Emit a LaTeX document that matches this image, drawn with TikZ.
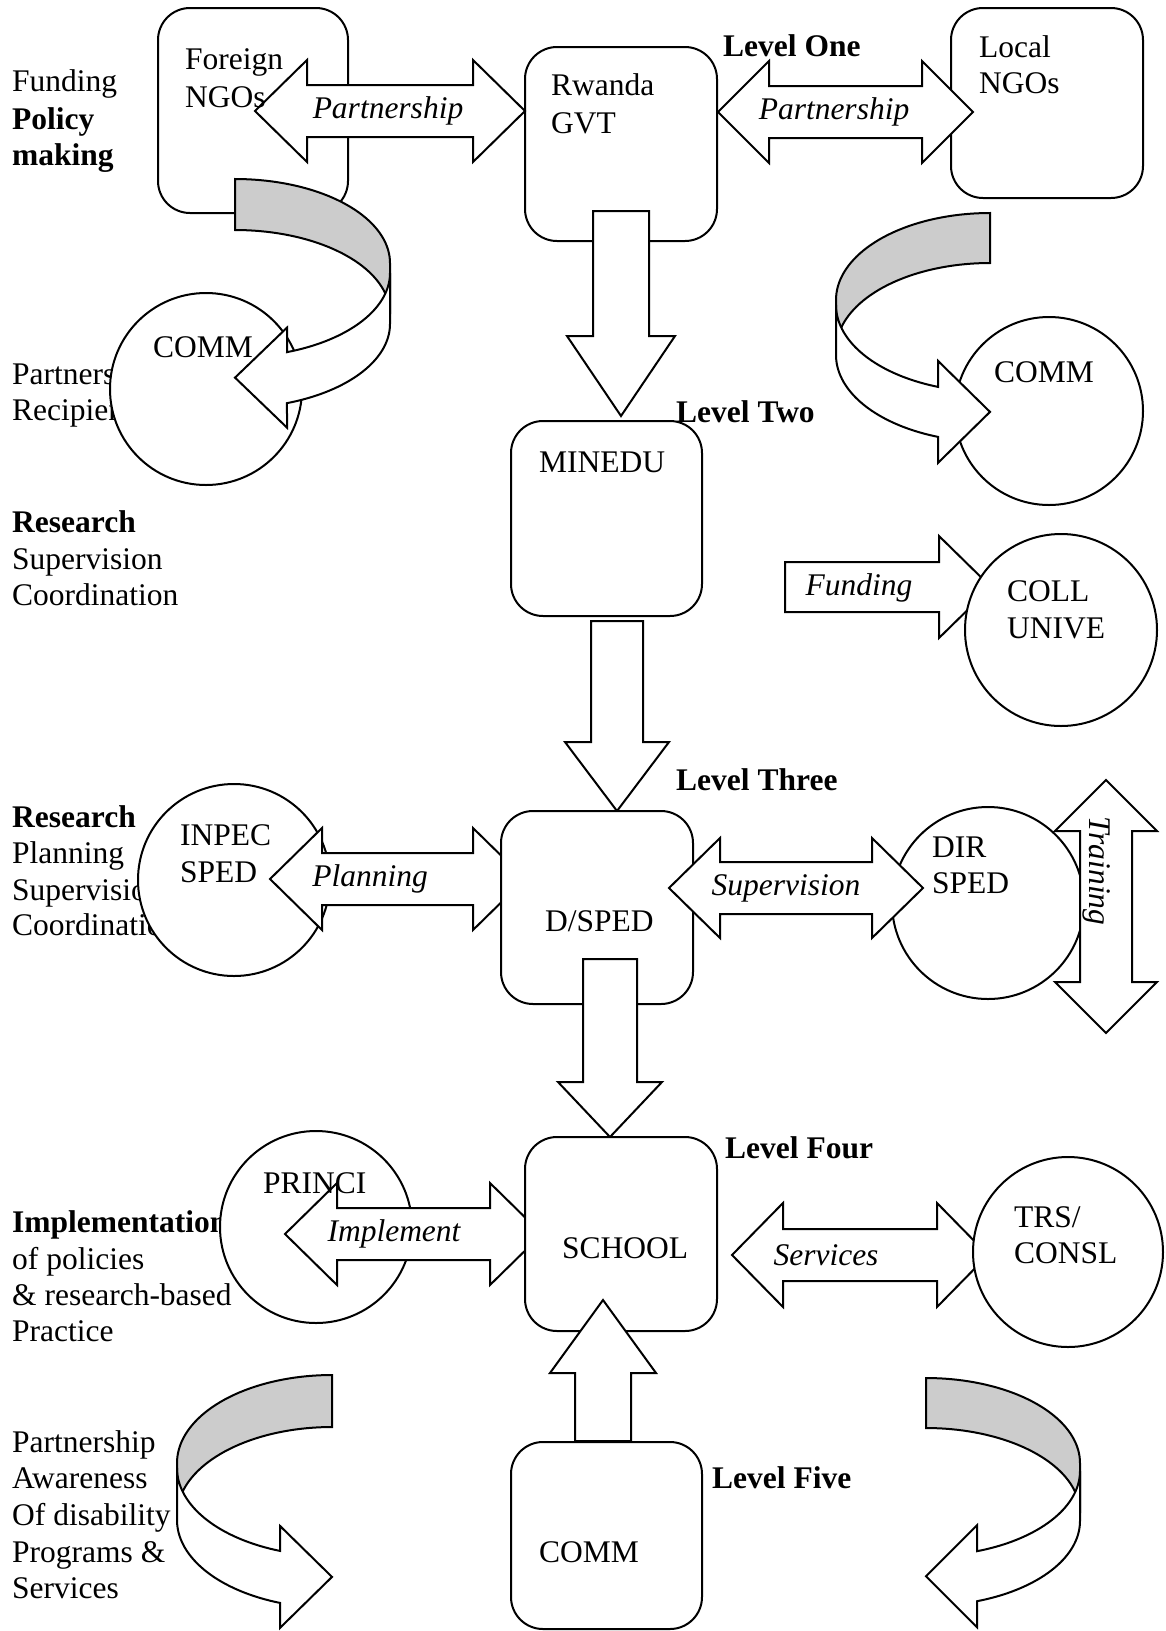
\documentclass[tikz,border=0pt]{standalone}
\usepackage{fontspec}
\setmainfont{Liberation Serif}
\newcommand\diagfont{\fontsize{31.5}{36.4}\selectfont}
\tikzset{
  ln/.style={line width=2pt, draw=black},
  boxshape/.style={ln, fill=white, rounded corners=32pt, rectangle, inner sep=0pt},
  circshape/.style={ln, fill=white, circle, inner sep=0pt},
  arrowshape/.style={ln, fill=white, line join=miter},
  backface/.style={ln, fill=black!20},
  frontface/.style={ln, fill=white},
  txt/.style={anchor=base west, inner sep=0pt, font=\diagfont},
  btxt/.style={anchor=base west, inner sep=0pt, font=\diagfont\bfseries},
  itxt/.style={anchor=center, inner sep=0pt, font=\diagfont\itshape},
}
% horizontal double arrow: xl, xr, yc, head length, shaft half, head half
\newcommand\hdarrow[6]{\filldraw[arrowshape] (#1,#3) -- ({#1+#4},{#3-#6}) -- ({#1+#4},{#3-#5}) -- ({#2-#4},{#3-#5}) -- ({#2-#4},{#3-#6}) -- (#2,#3) -- ({#2-#4},{#3+#6}) -- ({#2-#4},{#3+#5}) -- ({#1+#4},{#3+#5}) -- ({#1+#4},{#3+#6}) -- cycle;}
% vertical double arrow: xc, ytop, ybot, head length, shaft half, head half
\newcommand\vdarrow[6]{\filldraw[arrowshape] (#1,#2) -- ({#1+#6},{#2+#4}) -- ({#1+#5},{#2+#4}) -- ({#1+#5},{#3-#4}) -- ({#1+#6},{#3-#4}) -- (#1,#3) -- ({#1-#6},{#3-#4}) -- ({#1-#5},{#3-#4}) -- ({#1-#5},{#2+#4}) -- ({#1-#6},{#2+#4}) -- cycle;}
% vertical single arrow: xc, ystart, ybase, ytip, shaft half, head half
\newcommand\vsarrow[6]{\filldraw[arrowshape] ({#1-#5},#2) -- ({#1+#5},#2) -- ({#1+#5},#3) -- ({#1+#6},#3) -- (#1,#4) -- ({#1-#6},#3) -- ({#1-#5},#3) -- cycle;}
% horizontal single arrow: xstart, xbase, xtip, yc, shaft half, head half
\newcommand\hsarrow[6]{\filldraw[arrowshape] (#1,{#4-#5}) -- (#2,{#4-#5}) -- (#2,{#4-#6}) -- (#3,#4) -- (#2,{#4+#6}) -- (#2,{#4+#5}) -- (#1,{#4+#5}) -- cycle;}
% curved ribbon arrow: cx, s, c1, w, c3, rx, ry, head length, head half
\newcommand\curvarrow[9]{%
  \pgfmathsetmacro\cvT{acos(#8/#6)}%
  \pgfmathsetmacro\cvS{sin(\cvT)}%
  \pgfmathsetmacro\cvHC{#5+#4/2+#7*\cvS}%
  \filldraw[backface] plot[domain=90:0,samples=40] ({#1+(#2)*#6*cos(\x)},{#3-#7*sin(\x)}) -- plot[domain=0:90,samples=40] ({#1+(#2)*#6*cos(\x)},{#3+#4-#7*sin(\x)}) -- cycle;
  \filldraw[frontface] plot[domain=0:\cvT,samples=40] ({#1+(#2)*#6*cos(\x)},{#5+#7*sin(\x)}) -- ({#1+(#2)*#8},{\cvHC-#9}) -- (#1,\cvHC) -- ({#1+(#2)*#8},{\cvHC+#9}) -- plot[domain=\cvT:0,samples=40] ({#1+(#2)*#6*cos(\x)},{#5+#4+#7*sin(\x)}) -- cycle;
}
\begin{document}
\begin{tikzpicture}[x=1pt,y=-1pt]
\useasboundingbox (0,0) rectangle (1166,1631);
\fill[white] (0,0) rectangle (1166,1631);

% left-hand texts
\node[txt]  (l1a) at (12,91) {Funding};
\node[btxt] (l1b) at (12,129) {Policy};
\node[btxt] (l1c) at (12,165) {making};
\node[txt]  (l2a) at (12,384) {Partners};
\node[txt]  (l2b) at (12,420) {Recipients};
\node[btxt] (l3a) at (12,532) {Research};
\node[txt]  (l3b) at (12,569) {Supervision};
\node[txt]  (l3c) at (12,605) {Coordination};
\node[btxt] (l4a) at (12,827) {Research};
\node[txt]  (l4b) at (12,863) {Planning};
\node[txt]  (l4c) at (12,900) {Supervision};
\node[txt]  (l4d) at (12,935) {Coordination};
\node[btxt] (l5a) at (12,1232) {Implementation};
\node[txt]  (l5b) at (12,1269) {of policies};
\node[txt]  (l5c) at (12,1305) {\& research-based};
\node[txt]  (l5d) at (12,1341) {Practice};
\node[txt]  (l6a) at (12,1452) {Partnership};
\node[txt]  (l6b) at (12,1488) {Awareness};
\node[txt]  (l6c) at (12,1525) {Of disability};
\node[txt]  (l6d) at (12,1562) {Programs \&};
\node[txt]  (l6e) at (12,1598) {Services};

% circles under arrows
\node[circshape, minimum size=192pt] (comma) at (206,389) {};
\node[circshape, minimum size=188pt] (commb) at (1049,411) {};
\node[circshape, minimum size=192pt] (inpec) at (234,880) {};
\node[circshape, minimum size=192pt] (princi) at (316,1227) {};
\node[circshape, minimum size=192pt] (dir) at (988,903) {};

% boxes (upper)
\node[boxshape, minimum width=190pt, minimum height=205pt] (foreign) at (253,110.5) {};
\node[boxshape, minimum width=192pt, minimum height=194pt] (rwanda) at (621,144) {};
\node[boxshape, minimum width=192pt, minimum height=190pt] (local) at (1047,103) {};
\node[boxshape, minimum width=191pt, minimum height=195pt] (minedu) at (606.5,518.5) {};

% arrows
\hdarrow{255}{525}{111}{52}{26}{51}
\hdarrow{718}{973}{112}{51}{26}{51}
\vsarrow{621}{211}{336}{416}{28}{54}
\vsarrow{617}{621}{742}{811}{26}{52}
\hdarrow{270}{525}{879}{52}{26}{51}

\node[boxshape, minimum width=192pt, minimum height=193pt] (dsped) at (597,907.5) {};

\hdarrow{669}{923}{888}{51}{26}{50}
\vsarrow{610}{959}{1082}{1137}{27}{52}
\hdarrow{285}{542}{1234}{52}{26}{51}
\vdarrow{1106}{780}{1033}{51}{26}{51}
\hdarrow{732}{988}{1255}{51}{26}{52}
\hsarrow{785}{939}{991}{587}{25}{51}

\node[boxshape, minimum width=192pt, minimum height=194pt] (school) at (621,1234) {};
\vsarrow{603}{1441}{1373}{1300}{28}{53}
\node[boxshape, minimum width=191pt, minimum height=187pt] (commbox) at (606.5,1535.5) {};

% circles over arrows
\node[circshape, minimum size=190pt] (trs) at (1068,1252) {};
\node[circshape, minimum size=192pt] (coll) at (1061,630) {};

% curved ribbon arrows
\curvarrow{235}{1}{263}{51}{273}{155}{84}{52}{50}
\curvarrow{990}{-1}{300}{50}{305}{154}{87}{52}{51}
\curvarrow{332}{-1}{1463}{52}{1468}{155}{88}{52}{51}
\curvarrow{926}{1}{1463}{50}{1471}{154}{85}{51}{51}

% texts in shapes
\node[txt] (tforeign) at (185,69) {Foreign};
\node[txt] (tforeign2) at (185,107) {NGOs};
\node[txt] (trwanda) at (551,95) {Rwanda};
\node[txt] (trwanda2) at (551,133) {GVT};
\node[txt] (tlocal) at (979,57) {Local};
\node[txt] (tlocal2) at (979,93) {NGOs};
\node[txt] (tcomma) at (153,357) {COMM};
\node[txt] (tcommb) at (994,382) {COMM};
\node[txt] (tminedu) at (539,472) {MINEDU};
\node[txt] (tcoll) at (1007,601) {COLL};
\node[txt] (tcoll2) at (1007,638) {UNIVE};
\node[txt] (tinpec) at (180,845) {INPEC};
\node[txt] (tinpec2) at (180,882) {SPED};
\node[txt] (tdir) at (932,857) {DIR};
\node[txt] (tdir2) at (932,893) {SPED};
\node[txt] (tdsped) at (545,931) {D/SPED};
\node[txt] (tprinci) at (263,1193) {PRINCI};
\node[txt] (tschool) at (562,1258) {SCHOOL};
\node[txt] (ttrs) at (1014,1227) {TRS/};
\node[txt] (ttrs2) at (1014,1263) {CONSL};
\node[txt] (tcommbox) at (539,1562) {COMM};

% level labels
\node[btxt] (lv1) at (723,56) {Level One};
\node[btxt] (lv2) at (676,422) {Level Two};
\node[btxt] (lv3) at (676,790) {Level Three};
\node[btxt] (lv4) at (725,1158) {Level Four};
\node[btxt] (lv5) at (712,1488) {Level Five};

% arrow labels
\node[itxt] (ipart1) at (388,111) {Partnership};
\node[itxt] (ipart2) at (834,112) {Partnership};
\node[itxt] (ifund) at (859,588) {Funding};
\node[itxt] (iplan) at (370,879) {Planning};
\node[itxt] (isup) at (786,888) {Supervision};
\node[itxt] (iimpl) at (394,1234) {Implement};
\node[itxt] (iserv) at (826,1255) {Services};
\node[itxt, rotate=-90] (itrain) at (1097,871) {Training};
\end{tikzpicture}
\end{document}
